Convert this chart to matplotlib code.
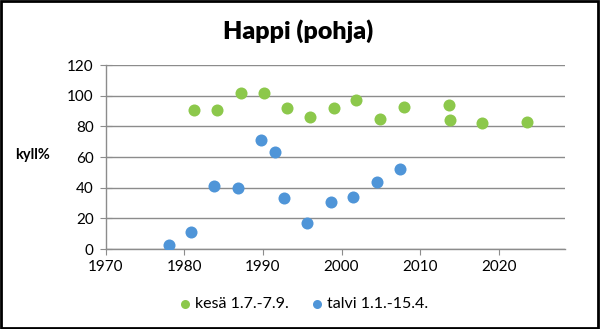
import numpy as np
import matplotlib.pyplot as plt
from matplotlib.patches import Rectangle

plt.rcParams['font.family'] = ['Lato', 'DejaVu Sans']

# kesä 1.7.-7.9.
kesa_year = [1981.3, 1984.2, 1987.2, 1990.1, 1993.1, 1996.0, 1999.1,
             2001.9, 2004.9, 2007.9, 2013.7, 2013.8, 2017.8, 2023.6]
kesa_val = [91, 91, 102, 102, 92, 86, 92,
            97, 85, 93, 94, 84, 82, 83]

# talvi 1.1.-15.4.
talvi_year = [1978.0, 1980.9, 1983.8, 1986.8, 1989.8, 1991.6, 1992.7,
              1995.6, 1998.6, 2001.5, 2004.5, 2007.4]
talvi_val = [2.5, 11, 41, 40, 71, 63, 33, 17, 31, 34, 44, 52]

x_ticks = [1970, 1980, 1990, 2000, 2010, 2020]
y_ticks = [0, 20, 40, 60, 80, 100, 120]

green = '#8CC84B'
blue = '#4F95D8'
grid_col = '#8C8C8C'

fig = plt.figure(figsize=(6.0, 3.29), dpi=100)
ax = fig.add_axes([0.176, 0.243, 0.7655, 0.559])

ax.scatter(kesa_year, kesa_val, s=75, color=green, zorder=3,
           label='kesä 1.7.-7.9.', linewidths=0)
ax.scatter(talvi_year, talvi_val, s=75, color=blue, zorder=3,
           label='talvi 1.1.-15.4.', linewidths=0)

ax.set_xlim(1970, 2028.4)
ax.set_ylim(0, 120)
ax.set_xticks(x_ticks)
ax.set_yticks(y_ticks)
ax.yaxis.grid(True, color=grid_col, linewidth=1)
ax.set_axisbelow(True)

for s in ['top', 'right']:
    ax.spines[s].set_visible(False)
for s in ['left', 'bottom']:
    ax.spines[s].set_color(grid_col)
    ax.spines[s].set_linewidth(1)

ax.tick_params(axis='y', direction='inout', length=9, color=grid_col,
               labelsize=11, pad=4)
ax.tick_params(axis='x', direction='out', length=4, color=grid_col,
               labelsize=11, pad=4)

fig.text(0.497, 0.905, 'Happi (pohja)', ha='center', va='center',
         fontsize=18, fontweight='heavy')
fig.text(0.055, 0.53, 'kyll%', ha='center', va='center',
         fontsize=10.5, fontweight='bold')

fig.legend(loc='center', bbox_to_anchor=(0.503, 0.075), ncol=2,
           frameon=False, fontsize=11.5, handletextpad=0.0,
           columnspacing=1.2, markerscale=0.75, handlelength=1.2)

fig.patches.append(Rectangle((0.002, 0.004), 0.994, 0.992,
                             transform=fig.transFigure, fill=False,
                             edgecolor='black', linewidth=2))

fig.savefig('out.png', dpi=100)
